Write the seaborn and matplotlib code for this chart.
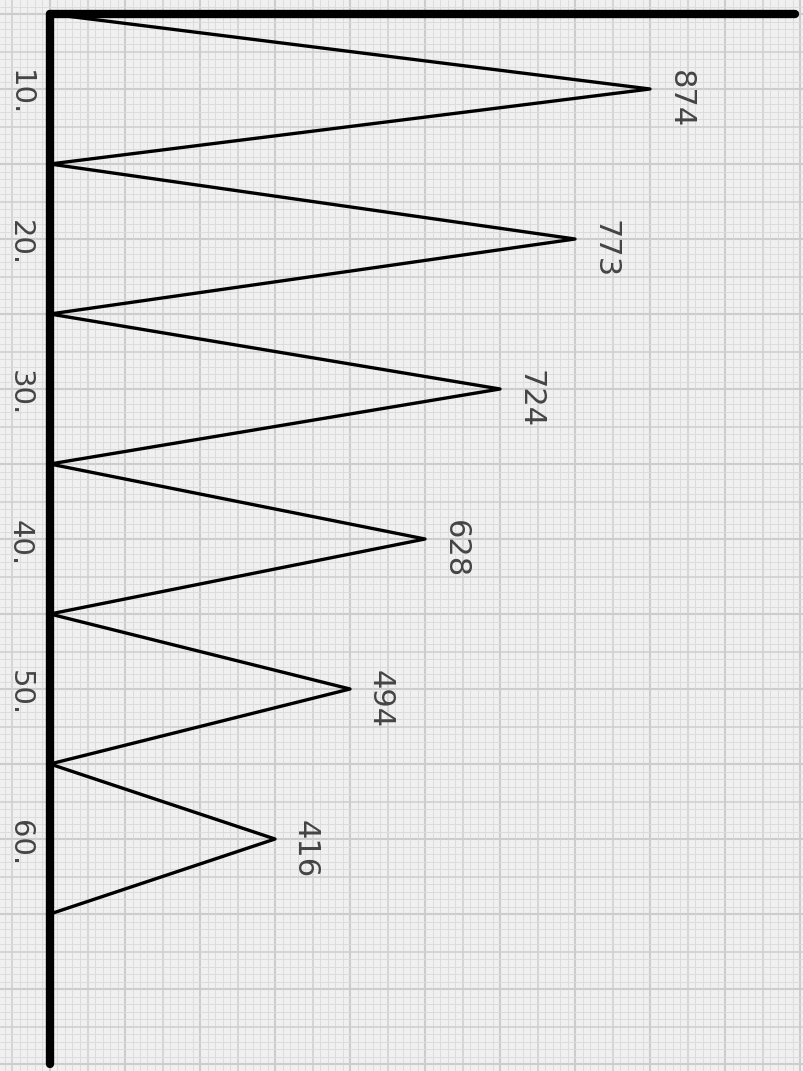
import numpy as np
import pandas as pd
import seaborn as sns
import matplotlib.pyplot as plt
from matplotlib.ticker import MultipleLocator

# class labels down the left side and the counts written at each peak
classes = ["10.", "20.", "30.", "40.", "50.", "60."]
counts = [874, 773, 724, 628, 494, 416]
# how far each peak was drawn out on the paper, in 1 cm squares
peak_cells = [8, 7, 6, 5, 4, 3]

# zig-zag path: back to the axis between every class
xs, ys = [0], [0]
for i, p in enumerate(peak_cells):
    xs += [p, 0]
    ys += [2 * i + 1, 2 * i + 2]
df = pd.DataFrame({"x": xs, "y": ys})

sns.set_style("white")
plt.rcParams["font.family"] = ["DejaVu Sans"]

fig = plt.figure(figsize=(8.04, 10.71), dpi=100)
ax = fig.add_axes([0, 0, 1, 1])
ax.set_facecolor("#f0f0f0")

# graph paper: 1 mm, 5 mm and 1 cm lines
ax.xaxis.set_minor_locator(MultipleLocator(0.1))
ax.yaxis.set_minor_locator(MultipleLocator(0.1))
ax.xaxis.set_major_locator(MultipleLocator(0.5))
ax.yaxis.set_major_locator(MultipleLocator(0.5))
ax.grid(which="minor", color="#dcdcdc", lw=0.7)
ax.grid(which="major", color="#cecece", lw=1.1)
for v in np.arange(-1, 12):
    ax.axvline(v, color="#c6c6c6", lw=1.5, zorder=0.5)
for v in np.arange(-1, 16):
    ax.axhline(v, color="#c6c6c6", lw=1.5, zorder=0.5)
ax.set_axisbelow(True)

sns.lineplot(data=df, x="x", y="y", sort=False, estimator=None,
             color="black", lw=2.4, ax=ax, legend=False)

# the two hand-ruled axes
n = len(classes)
ax.plot([0, 0], [0, 2 * n + 2], color="black", lw=6, solid_capstyle="round", zorder=3)
ax.plot([0, 9.93], [0, 0], color="black", lw=6, solid_capstyle="round", zorder=3)

for i, (lab, c, p) in enumerate(zip(classes, counts, peak_cells)):
    y = 2 * i + 1
    ax.text(-0.4, y + 0.05, lab, rotation=-90, ha="center", va="center",
            fontsize=21, color="#444444")
    ax.text(p + 0.4, y + 0.13, str(c), rotation=-90, ha="center", va="center",
            fontsize=22, color="#444444")

ax.set_xlim(-50 / 75, 754 / 75)
ax.set_ylim(1057 / 75, -14 / 75)
ax.set_xlabel("")
ax.set_ylabel("")
ax.tick_params(which="both", length=0, labelbottom=False, labelleft=False)
for s in ax.spines.values():
    s.set_visible(False)

plt.savefig("out.png", dpi=100)
plt.close()
